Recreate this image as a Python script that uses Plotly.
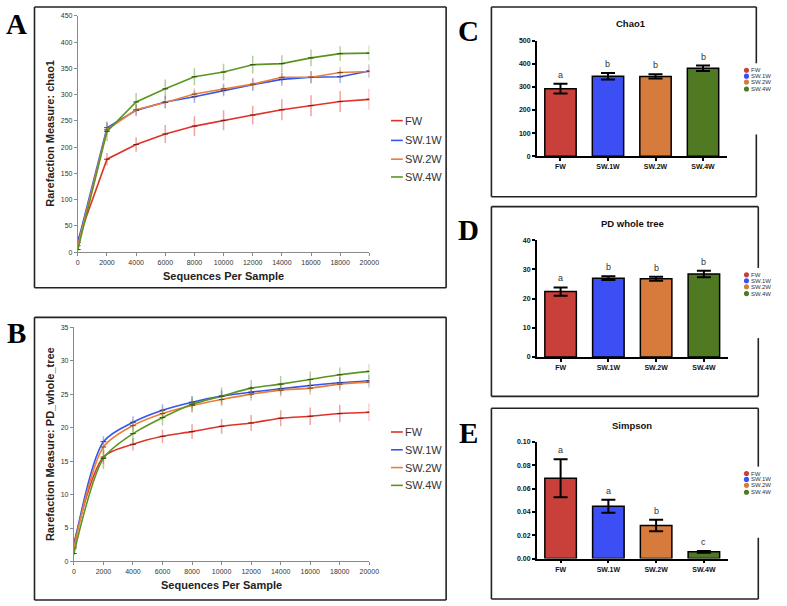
import plotly.graph_objects as go

W, H = 787, 606

# ---------------- data ----------------
groups = ["FW", "SW.1W", "SW.2W", "SW.4W"]
seq = [0, 2000, 4000, 6000, 8000, 10000, 12000, 14000, 16000, 18000, 20000]

chao1_FW = [22, 177, 205, 225, 240, 251, 261, 271, 279, 287, 291]
chao1_SW1 = [18, 237, 270, 286, 296, 308, 319, 329, 333, 334, 345]
chao1_SW2 = [12, 233, 271, 285, 301, 311, 320, 333, 333, 342, 344]
chao1_SW4 = [5, 230, 286, 311, 334, 343, 357, 359, 370, 378, 379]
chao1_FW_err = [3, 12, 14, 17, 19, 19, 18, 20, 20, 20, 20]
chao1_SW1_err = [3, 10, 11, 12, 12, 11, 12, 12, 12, 12, 13]
chao1_SW2_err = [3, 10, 10, 11, 11, 11, 11, 11, 11, 11, 12]
chao1_SW4_err = [3, 19, 17, 18, 16, 16, 17, 16, 16, 14, 14]

pd_FW = [2.7, 15.6, 17.5, 18.7, 19.4, 20.2, 20.7, 21.4, 21.7, 22.1, 22.3]
pd_SW1 = [2.2, 17.9, 20.8, 22.6, 23.8, 24.7, 25.3, 25.8, 26.3, 26.7, 27.0]
pd_SW2 = [2.0, 17.1, 20.3, 22.1, 23.3, 24.2, 25.0, 25.6, 25.9, 26.5, 26.8]
pd_SW4 = [1.2, 15.4, 19.1, 21.5, 23.5, 24.7, 25.9, 26.5, 27.2, 27.9, 28.4]
pd_FW_err = [0.3, 1.0, 0.9, 1.0, 1.1, 1.1, 1.2, 1.2, 1.3, 1.3, 1.3]
pd_SW1_err = [0.3, 0.8, 0.9, 0.9, 0.9, 0.9, 0.9, 0.9, 0.9, 0.9, 0.9]
pd_SW2_err = [0.3, 0.9, 0.9, 1.0, 1.0, 1.0, 1.0, 1.0, 1.0, 1.0, 1.0]
pd_SW4_err = [0.3, 1.6, 1.5, 1.2, 1.2, 1.3, 1.2, 1.2, 1.2, 1.1, 1.1]

chao1_mean = [292, 346, 345, 380]
chao1_sd = [21, 14, 9, 12]
chao1_letters = ["a", "b", "b", "b"]

pdw_mean = [22.4, 27.0, 26.8, 28.4]
pdw_sd = [1.4, 0.65, 0.7, 1.1]
pdw_letters = ["a", "b", "b", "b"]

simpson_mean = [0.0688, 0.0448, 0.0283, 0.0057]
simpson_sd = [0.0163, 0.0055, 0.005, 0.0007]
simpson_letters = ["a", "a", "b", "c"]

line_colors = ["#e03328", "#3355f2", "#e8803c", "#5b951f"]
err_colors = ["rgba(224,51,40,0.45)", "rgba(51,85,242,0.45)",
              "rgba(232,128,60,0.45)", "rgba(91,149,31,0.45)"]
mark_colors = ["#7a1a14", "#1a2a80", "#7a4018", "#2e4e10"]
bar_colors = ["#c9403a", "#3b4ff5", "#d67b3b", "#4f7a22"]


def px(x):
    return x / W


def py(y):
    return 1 - y / H


fig = go.Figure()

chao_series = [chao1_FW, chao1_SW1, chao1_SW2, chao1_SW4]
chao_errs = [chao1_FW_err, chao1_SW1_err, chao1_SW2_err, chao1_SW4_err]
pd_series = [pd_FW, pd_SW1, pd_SW2, pd_SW4]
pd_errs = [pd_FW_err, pd_SW1_err, pd_SW2_err, pd_SW4_err]

for i, g in enumerate(groups):
    fig.add_trace(go.Scatter(
        x=seq, y=chao_series[i], name=g, mode="lines+markers",
        line=dict(color=line_colors[i], width=1.6),
        marker=dict(symbol="line-ew", size=4, line=dict(color=mark_colors[i], width=1)),
        error_y=dict(type="data", array=chao_errs[i], color=err_colors[i], thickness=1.5, width=0),
        xaxis="x", yaxis="y", showlegend=False))
for i, g in enumerate(groups):
    fig.add_trace(go.Scatter(
        x=seq, y=pd_series[i], name=g, mode="lines+markers",
        line=dict(color=line_colors[i], width=1.6, shape="spline", smoothing=0.8),
        marker=dict(symbol="line-ew", size=4, line=dict(color=mark_colors[i], width=1)),
        error_y=dict(type="data", array=pd_errs[i], color=err_colors[i], thickness=1.5, width=0),
        xaxis="x2", yaxis="y2", showlegend=False))

bar_sets = [
    (chao1_mean, chao1_sd, chao1_letters, "x3", "y3"),
    (pdw_mean, pdw_sd, pdw_letters, "x4", "y4"),
    (simpson_mean, simpson_sd, simpson_letters, "x5", "y5"),
]
for mean, sd, letters, xa, ya in bar_sets:
    fig.add_trace(go.Bar(
        x=groups, y=mean, width=0.66,
        marker=dict(color=bar_colors, line=dict(color="black", width=1.5)),
        error_y=dict(type="data", array=sd, color="black", thickness=2, width=7),
        xaxis=xa, yaxis=ya, showlegend=False))

# ---------------- axes ----------------
line_ax = dict(showline=True, linecolor="#8a8a8a", linewidth=1, ticks="outside",
               ticklen=3, tickcolor="#8a8a8a", showgrid=False, zeroline=False,
               tickfont=dict(family="Liberation Sans", size=7, color="#333"))
bar_ax = dict(showline=True, linecolor="black", linewidth=1.5, ticks="outside",
              ticklen=3, tickcolor="black", tickwidth=1.5, showgrid=False, zeroline=False,
              tickfont=dict(family="Liberation Sans", size=7, color="#111", weight="bold"))

fig.update_layout(
    width=W, height=H, margin=dict(l=0, r=0, t=0, b=0),
    paper_bgcolor="white", plot_bgcolor="white", bargap=0.33,
    xaxis=dict(line_ax, domain=[px(77), px(373)], range=[0, 20000], dtick=2000,
               tickformat="d", anchor="y"),
    yaxis=dict(line_ax, domain=[py(251), py(12)], range=[0, 450], dtick=50, anchor="x"),
    xaxis2=dict(line_ax, domain=[px(73), px(373)], range=[0, 20000], dtick=2000,
                tickformat="d", anchor="y2"),
    yaxis2=dict(line_ax, domain=[py(564), py(327)], range=[0, 35], dtick=5, anchor="x2"),
    xaxis3=dict(bar_ax, domain=[px(543), px(736)], range=[-0.5, 3.5], anchor="y3"),
    yaxis3=dict(bar_ax, domain=[py(154), py(37)], range=[0, 500], dtick=100, anchor="x3"),
    xaxis4=dict(bar_ax, domain=[px(543), px(737)], range=[-0.5, 3.5], anchor="y4"),
    yaxis4=dict(bar_ax, domain=[py(357), py(239)], range=[0, 40], dtick=10, anchor="x4"),
    xaxis5=dict(bar_ax, domain=[px(543), px(737)], range=[-0.5, 3.5], anchor="y5"),
    yaxis5=dict(bar_ax, domain=[py(561), py(443)], range=[0, 0.1], dtick=0.02,
                tickformat=".2f", anchor="x5"),
)

shapes = []
annotations = []

frame = dict(color="#222", width=1.6)


def seg(x0, y0, x1, y1, line=frame):
    shapes.append(dict(type="line", xref="paper", yref="paper",
                       x0=px(x0), y0=py(y0), x1=px(x1), y1=py(y1), line=line))


def box(l, t, r, b, gap=None):
    seg(l, t, r, t)
    seg(l, b, r, b)
    seg(l, t, l, b)
    if gap:
        seg(r, t, r, gap[0])
        seg(r, gap[1], r, b)
    else:
        seg(r, t, r, b)


box(33, 3, 451, 287)
box(33, 317, 451, 603)
box(497, 3, 766, 195, gap=(60, 132))
box(497, 205, 768, 397, gap=(267, 338))
box(497, 409, 768, 602, gap=(468, 540))


def text(x, y, s, size, color="#222", family="Liberation Sans", weight="normal",
         xanchor="center", yanchor="middle", angle=0):
    annotations.append(dict(xref="paper", yref="paper", x=px(x), y=py(y), text=s,
                            showarrow=False, xanchor=xanchor, yanchor=yanchor,
                            textangle=angle, borderpad=0,
                            font=dict(family=family, size=size, color=color, weight=weight)))


# panel letters
for lab, (x, y) in zip("ABCDE", [(15, 20), (15, 333), (474, 27), (474, 229), (474, 434)]):
    text(x, y, lab, 29, color="black", family="Liberation Serif", weight="bold")

# axis titles of rarefaction panels
text(49, 131, "Rarefaction Measure: chao1", 11, weight="bold", angle=-90)
text(225, 275, "Sequences Per Sample", 11, weight="bold")
text(49, 445, "Rarefaction Measure: PD_whole_tree", 11, weight="bold", angle=-90)
text(223, 588, "Sequences Per Sample", 11, weight="bold")

# line legends
for i, g in enumerate(groups):
    for y0 in ([118, 138, 157, 175][i], [433, 451, 469, 487][i]):
        seg(395, y0, 407, y0, line=dict(color=line_colors[i], width=1.6))
        text(408, y0, g, 11, color="#333", xanchor="left")

# bar panel titles
text(639, 20, "Chao1", 9.5, color="#111", weight="bold")
text(640, 222, "PD whole tree", 9.5, color="#111", weight="bold")
text(640, 426, "Simpson", 9.5, color="#111", weight="bold")

# bar legends
for ys in ([67, 73, 79, 86], [274, 280, 286, 293], [475, 481, 487, 494]):
    for i, g in enumerate(groups):
        r = 2.6
        shapes.append(dict(type="circle", xref="paper", yref="paper",
                           x0=px(756 - r), x1=px(756 + r), y0=py(ys[i] + r), y1=py(ys[i] - r),
                           fillcolor=bar_colors[i], line=dict(width=0)))
        text(759.5, ys[i], g, 6, color="#333", xanchor="left")

# significance letters
for mean, sd, letters, xa, ya in bar_sets:
    for g, m, s, l in zip(groups, mean, sd, letters):
        annotations.append(dict(xref=xa, yref=ya, x=g, y=m + s, text=l, showarrow=False,
                                yanchor="bottom", yshift=2,
                                font=dict(family="Liberation Sans", size=9, color="#333")))

fig.update_layout(shapes=shapes, annotations=annotations)
fig.write_html("out.html", config={"displayModeBar": False},
               post_script="document.body.style.margin='0';document.body.style.overflow='hidden';")
